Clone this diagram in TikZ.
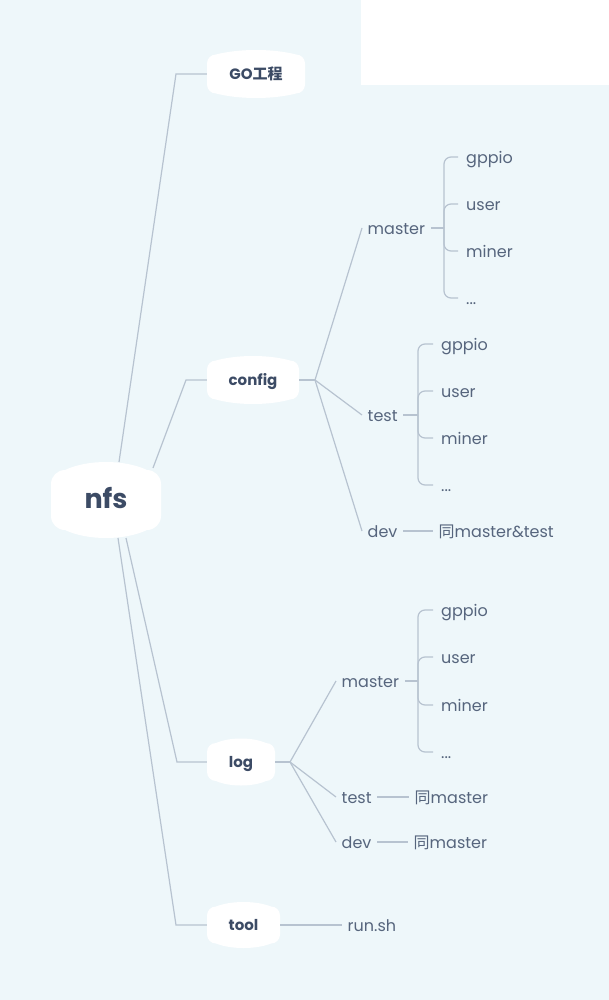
\documentclass[tikz,border=0pt]{standalone}
\usepackage{fontspec}
\setmainfont{Poppins}
\newfontfamily\cjk{Noto Sans CJK SC}
\usetikzlibrary{calc}
\definecolor{bg}{HTML}{EEF7FA}
\definecolor{ln}{HTML}{B7C3D0}
\definecolor{tx}{HTML}{56657D}
\definecolor{hd}{HTML}{3C4B65}
\newcommand\blobpath[2]{%
  \fill[white] let \p1=(path picture bounding box.south west),
                   \p2=(path picture bounding box.north east) in
  (\x1,\y1+#1+#2) -- (\x1,\y2-#1-#2)
  .. controls (\x1,\y2-#1-0.45*#2) and (\x1+0.45*#2,\y2-#1) .. (\x1+#2,\y2-#1)
  .. controls (\x1+0.33*\x2-0.33*\x1,\y2+#1/3) and (\x2-0.33*\x2+0.33*\x1,\y2+#1/3) .. (\x2-#2,\y2-#1)
  .. controls (\x2-0.45*#2,\y2-#1) and (\x2,\y2-#1-0.45*#2) .. (\x2,\y2-#1-#2)
  -- (\x2,\y1+#1+#2)
  .. controls (\x2,\y1+#1+0.45*#2) and (\x2-0.45*#2,\y1+#1) .. (\x2-#2,\y1+#1)
  .. controls (\x2-0.33*\x2+0.33*\x1,\y1-#1/3) and (\x1+0.33*\x2-0.33*\x1,\y1-#1/3) .. (\x1+#2,\y1+#1)
  .. controls (\x1+0.45*#2,\y1+#1) and (\x1,\y1+#1+0.45*#2) .. (\x1,\y1+#1+#2)
  -- cycle;}
\tikzset{
  conn/.style={draw=ln, line width=1.2pt},
  lbl/.style={anchor=west, inner xsep=5.5pt, inner ysep=2pt, text=tx,
    text height=13pt, text depth=0pt,
    font=\fontsize{16}{18}\selectfont},
  leaf/.style={lbl, inner xsep=8pt},
  topic/.style={inner sep=0pt, minimum height=48pt, text=hd,
    text height=11pt, text depth=0pt,
    font=\fontsize{15}{18}\selectfont\bfseries, path picture={\blobpath{4.5}{9}}},
  rootnode/.style={inner sep=0pt, text=hd, text height=16pt, text depth=0pt,
    font=\fontsize{27}{30}\selectfont\bfseries, path picture={\blobpath{8}{14}}},
}
\begin{document}
\begin{tikzpicture}[x=1pt,y=-1pt]
\useasboundingbox (0,0) rectangle (609,1000);
\fill[bg] (0,0) rectangle (609,1000);
\fill[white] (361,0) rectangle (609,85);

% main nodes
\node[rootnode, minimum width=110pt, minimum height=76pt] (nfs) at (106,500) {nfs};
\node[topic, minimum width=98pt] (go) at (256,74) {GO{\cjk 工程}};
\node[topic, minimum width=92pt] (config) at (253,380) {config};
\node[topic, minimum width=68pt, minimum height=47pt] (log) at (241,762) {log};
\node[topic, minimum width=73pt, minimum height=46pt] (tool) at (243.5,925) {tool};

\coordinate (ngo) at (119,462);
\coordinate (ncf) at (153,468);
\coordinate (nlg) at (126,538);
\coordinate (ntl) at (118,538);
\draw[conn] (ngo) -- (176,74) -- (go.west);
\draw[conn] (ncf) -- (186,380) -- (config.west);
\draw[conn] (nlg) -- (177,762) -- (log.west);
\draw[conn] (ntl) -- (176,925) -- (tool.west);

% config subtree
\coordinate (cj) at (315,380);
\draw[conn] (config.east) -- (cj);
\node[lbl] (cm) at (362,228) {master};
\node[lbl] (ct) at (362,415) {test};
\node[lbl] (cd) at (362,531) {dev};
\foreach \n in {cm,ct,cd} \draw[conn] (cj) -- (\n.west);

\coordinate (cmj) at (444,228);
\draw[conn] (cm.east) -- (cmj);
\node[leaf] (cm1) at (458,157) {gppio};
\node[leaf] (cm2) at (458,204) {user};
\node[leaf] (cm3) at (458,251) {miner};
\node[leaf] (cm4) at (458,298) {...};
\foreach \n in {cm1,cm2,cm3,cm4} \draw[conn, rounded corners=7pt] (cmj) |- (\n.west);

\coordinate (ctj) at (418,415);
\draw[conn] (ct.east) -- (ctj);
\node[leaf] (ct1) at (433,344) {gppio};
\node[leaf] (ct2) at (433,391) {user};
\node[leaf] (ct3) at (433,438) {miner};
\node[leaf] (ct4) at (433,485) {...};
\foreach \n in {ct1,ct2,ct3,ct4} \draw[conn, rounded corners=7pt] (ctj) |- (\n.west);

\node[lbl] (cdx) at (433,531) {{\cjk 同}master\&test};
\draw[conn] (cd.east) -- (cdx.west);

% log subtree
\coordinate (lj) at (290,762);
\draw[conn] (log.east) -- (lj);
\node[lbl] (lm) at (336,681) {master};
\node[lbl] (lt) at (336,797) {test};
\node[lbl] (ld) at (336,842) {dev};
\foreach \n in {lm,lt,ld} \draw[conn] (lj) -- (\n.west);

\coordinate (lmj) at (418,681);
\draw[conn] (lm.east) -- (lmj);
\node[leaf] (lm1) at (433,610) {gppio};
\node[leaf] (lm2) at (433,657) {user};
\node[leaf] (lm3) at (433,705) {miner};
\node[leaf] (lm4) at (433,752) {...};
\foreach \n in {lm1,lm2,lm3,lm4} \draw[conn, rounded corners=7pt] (lmj) |- (\n.west);

\node[lbl] (ltx) at (409,797) {{\cjk 同}master};
\node[lbl] (ldx) at (408,842) {{\cjk 同}master};
\draw[conn] (lt.east) -- (ltx.west);
\draw[conn] (ld.east) -- (ldx.west);

% tool
\node[lbl] (run) at (342,925) {run.sh};
\draw[conn] (tool.east) -- (run.west);
\end{tikzpicture}
\end{document}
